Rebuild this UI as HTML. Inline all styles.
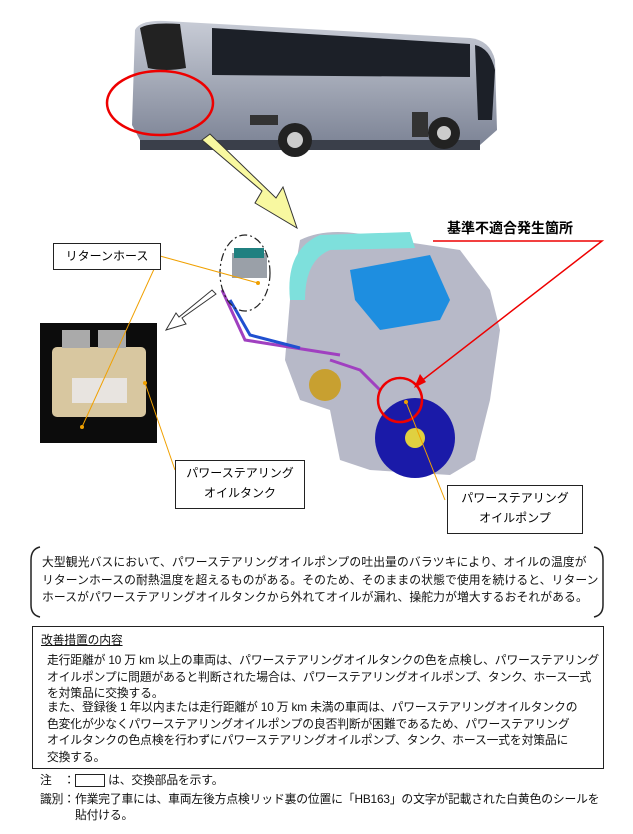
<!DOCTYPE html>
<html><head><meta charset="utf-8"><style>
body{margin:0;background:#fff;width:633px;height:834px;overflow:hidden;position:relative;font-family:"Liberation Sans","Noto Sans CJK JP",sans-serif;}
.t{position:absolute;font-size:11.8px;line-height:17px;color:#111;letter-spacing:-0.15px;white-space:nowrap}
.box{position:absolute;border:1.5px solid #222;background:#fff;font-size:12px;text-align:center;line-height:20px}
</style></head><body>
<svg width="633" height="540" style="position:absolute;left:0;top:0">
<defs><linearGradient id="bg" x1="0" y1="0" x2="0" y2="1"><stop offset="0" stop-color="#c8ccd6"/><stop offset="1" stop-color="#7d8496"/></linearGradient></defs>
<path d="M135,30 Q140,20 165,21 L470,38 Q490,40 495,60 L497,130 L480,145 L140,140 L132,125 Z" fill="url(#bg)"/>
<path d="M140,28 Q150,22 180,24 L186,68 Q165,72 148,68 Z" fill="#222"/>
<path d="M212,28 L470,44 L470,77 L212,75 Z" fill="#1c2028"/>
<path d="M475,45 Q490,48 495,70 L492,120 L478,120 Z" fill="#1c2028"/>
<rect x="140" y="140" width="340" height="10" fill="#3a3f4a"/>
<circle cx="295" cy="140" r="17" fill="#222"/><circle cx="295" cy="140" r="8" fill="#ccc"/>
<circle cx="444" cy="133" r="16" fill="#222"/><circle cx="444" cy="133" r="7" fill="#ccc"/>
<rect x="250" y="115" width="28" height="10" fill="#333"/><rect x="412" y="112" width="16" height="25" fill="#333"/>
<ellipse cx="160" cy="103" rx="53" ry="32" fill="none" stroke="#e00" stroke-width="2.5"/>
<path d="M202,140 L262,191 L255,203 L297,228 L283,187 L276,198 L210,134 Z" fill="#f8f8a0" stroke="#333" stroke-width="1"/>
<path d="M300,240 Q330,225 380,238 L460,250 L490,290 L500,330 L490,400 L475,460 L450,475 L370,470 L340,460 L330,410 L300,400 L285,360 L290,300 Z" fill="#b7b9c8"/>
<path d="M290,300 Q285,250 320,235 L410,232 L415,248 L330,250 Q305,260 305,300 Z" fill="#7ee0dc"/>
<path d="M350,270 L430,255 L450,300 L440,320 L380,330 L355,300 Z" fill="#1e8ee0"/>
<circle cx="415" cy="438" r="40" fill="#1a1aa8"/><circle cx="415" cy="438" r="10" fill="#e0d040"/>
<circle cx="325" cy="385" r="16" fill="#c8a030"/>
<path d="M330,360 L360,370 L380,390" stroke="#a040c0" stroke-width="3" fill="none"/>
<path d="M222,290 L245,340 L340,355" stroke="#a040c0" stroke-width="3" fill="none"/>
<path d="M230,300 L250,335 L300,348" stroke="#2050d0" stroke-width="3" fill="none"/>
<rect x="232" y="253" width="35" height="25" fill="#9aa0a8"/><rect x="234" y="248" width="30" height="10" fill="#208080"/>
<ellipse cx="245" cy="273" rx="25" ry="38" fill="none" stroke="#222" stroke-width="1.2" stroke-dasharray="8,3,2,3"/>
<circle cx="400" cy="400" r="22" fill="none" stroke="#e00" stroke-width="2.5"/>
<path d="M216,294 L182,318 L186,324 L166,330 L176,313 L179,317 L212,290 Z" fill="#fff" stroke="#333" stroke-width="1"/>
<rect x="40" y="323" width="117" height="120" fill="#0c0c0c"/>
<rect x="52" y="347" width="94" height="70" rx="5" fill="#d8c7a0"/>
<rect x="62" y="330" width="28" height="18" fill="#aaa"/><rect x="98" y="330" width="28" height="18" fill="#aaa"/>
<rect x="72" y="378" width="55" height="25" fill="#e8e4e0"/>
<g stroke="#f0a000" stroke-width="1" fill="none">
<path d="M160,256 L258,283"/><path d="M160,256 L82,427"/><path d="M145,383 L175,470"/><path d="M406,402 L445,500"/>
</g>
<circle cx="258" cy="283" r="2" fill="#f0a000"/><circle cx="82" cy="427" r="2" fill="#f0a000"/><circle cx="145" cy="383" r="2" fill="#f0a000"/><circle cx="406" cy="402" r="2" fill="#f0a000"/>
<path d="M433,241 L602,241 L420,382" stroke="#e00" stroke-width="1.5" fill="none"/>
<path d="M414,388 L420,374 L426,382 Z" fill="#e00"/>
<text x="447" y="233" font-size="14" font-weight="bold" font-family="Liberation Sans,Noto Sans CJK JP,sans-serif">基準不適合発生箇所</text>
</svg>
<div class="box" style="left:53px;top:243px;width:106px;height:25px;line-height:25px">リターンホース</div>
<div class="box" style="left:175px;top:460px;width:128px;height:45px;padding-top:2px">パワーステアリング<br>オイルタンク</div>
<div class="box" style="left:447px;top:485px;width:134px;height:45px;padding-top:2px">パワーステアリング<br>オイルポンプ</div>
<svg width="633" height="80" style="position:absolute;left:0;top:545px">
<path d="M40,2 Q31,4 31,15 L31,60 Q31,70 40,72" stroke="#222" stroke-width="1.5" fill="none"/>
<path d="M594,2 Q603,4 603,15 L603,60 Q603,70 594,72" stroke="#222" stroke-width="1.5" fill="none"/>
</svg>
<div class="t" style="left:42px;top:554px;line-height:17.5px;letter-spacing:0.1px">大型観光バスにおいて、パワーステアリングオイルポンプの吐出量のバラツキにより、オイルの温度が<br>リターンホースの耐熱温度を超えるものがある。そのため、そのままの状態で使用を続けると、リターン<br>ホースがパワーステアリングオイルタンクから外れてオイルが漏れ、操舵力が増大するおそれがある。</div>
<div style="position:absolute;left:32px;top:626px;width:570px;height:141px;border:1.5px solid #222"></div>
<div class="t" style="left:41px;top:632px;text-decoration:underline">改善措置の内容</div>
<div class="t" style="left:47px;top:652px;line-height:16.5px">走行距離が 10 万 km 以上の車両は、パワーステアリングオイルタンクの色を点検し、パワーステアリング<br>オイルポンプに問題があると判断された場合は、パワーステアリングオイルポンプ、タンク、ホース一式<br>を対策品に交換する。</div>
<div class="t" style="left:47px;top:699px;line-height:16.5px">また、登録後 1 年以内または走行距離が 10 万 km 未満の車両は、パワーステアリングオイルタンクの<br>色変化が少なくパワーステアリングオイルポンプの良否判断が困難であるため、パワーステアリング<br>オイルタンクの色点検を行わずにパワーステアリングオイルポンプ、タンク、ホース一式を対策品に<br>交換する。</div>
<div class="t" style="left:40px;top:772px;">注　：<span style="display:inline-block;width:28px;height:11px;border:1px solid #222;vertical-align:middle"></span> は、交換部品を示す。</div>
<div class="t" style="left:40px;top:791px;line-height:16px">識別：作業完了車には、車両左後方点検リッド裏の位置に「HB163」の文字が記載された白黄色のシールを<br>　　　貼付ける。</div>
</body></html>
